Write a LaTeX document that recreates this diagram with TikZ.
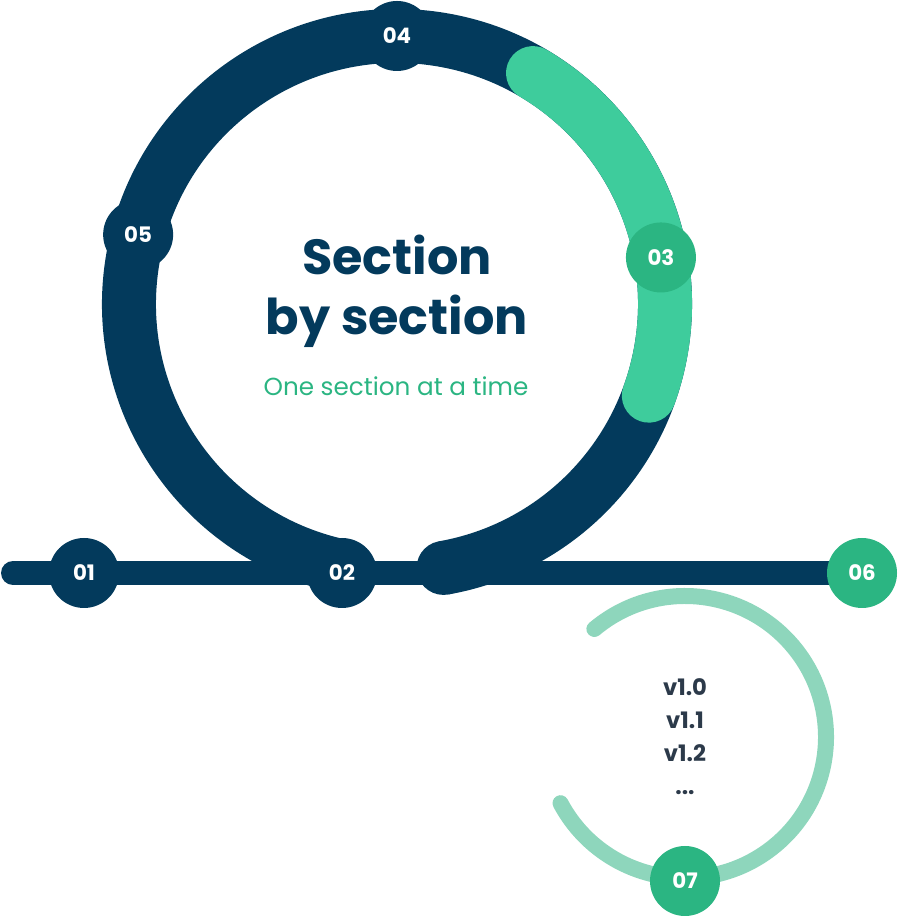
\documentclass[tikz,border=0pt]{standalone}
\usepackage{fontspec}
\setmainfont{Poppins}
\usetikzlibrary{arrows.meta, positioning, calc, backgrounds}
\definecolor{cNavy}{RGB}{3,58,92}
\definecolor{cMint}{RGB}{62,204,156}
\definecolor{cTeal}{RGB}{43,181,130}
\definecolor{cPale}{RGB}{142,214,188}
\definecolor{cSlate}{RGB}{44,58,74}
\tikzset{
	stepdot/.style ={circle, fill=cNavy, minimum size=52.5pt, inner sep=0pt, text=white, font=\fontsize{16}{16}\selectfont\bfseries},
	greendot/.style={stepdot, fill=cTeal},
	ring/.style    ={line width=40.5pt},
	track/.style   ={line width=18pt, line cap=round, draw=cNavy},
}

\begin{document}
\begin{tikzpicture}[x=0.75pt, y=0.75pt]
	\useasboundingbox (0,0) rectangle (898,919);
	\coordinate (loopc) at (397,615);
	\coordinate (verc) at (685,182);
	\coordinate (trackstart) at (13,346);
	\coordinate (loopend) at ($(loopc)+(-80:268)$);
	% steps on the track
	\node[stepdot] (n01) at (84,346) {01};
	\node[stepdot] (n02) at (342,346) {02};
	\node[greendot] (n06) at (862,346) {06};
	% steps on the loop
	\node[greendot] (n03) at ($(loopc)+(10:268)$) {03};
	\node[stepdot] (n04) at ($(loopc)+(90:268)$) {04};
	\node[stepdot] (n05) at ($(loopc)+(165:268)$) {05};
	\node[greendot] (n07) at ($(verc)+(-90:144)$) {07};
	% texts
	\node[text=cNavy, font=\fontsize{37}{45}\selectfont\bfseries, align=center] (title) at (397,628) {Section\\by section};
	\node[text=cTeal, font=\fontsize{18.5}{19}\selectfont] (subtitle) at (396,533) {One section at a time};
	\node[text=cSlate, font=\fontsize{17}{24.75}\selectfont\bfseries, align=center] (versions) at (verc) {v1.0\\v1.1\\v1.2\\...};
	\begin{scope}[on background layer]
		\draw[track] (trackstart) -- (n06.center);
		\draw[ring, cNavy] ($(loopc)+(260:268)$) arc[start angle=260, end angle=-80, radius=268];
		\fill[cNavy] (loopend) circle[radius=27];
		\draw[ring, cMint, line cap=round] ($(loopc)+(59.5:268)$) arc[start angle=59.5, end angle=-20, radius=268];
		\draw[line width=12pt, cPale, line cap=round] ($(verc)+(130:141)$) arc[start angle=130, end angle=-152, radius=141];
	\end{scope}
\end{tikzpicture}
\end{document}
